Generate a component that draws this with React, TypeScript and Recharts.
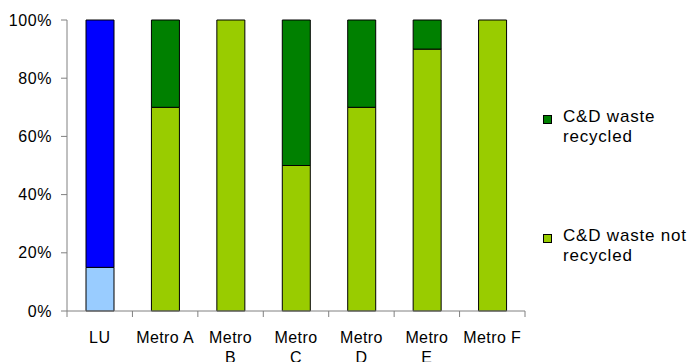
import React from 'react';
import { BarChart, Bar, XAxis, YAxis, Cell } from 'recharts';

const categories = ['LU', 'Metro A', 'Metro B', 'Metro C', 'Metro D', 'Metro E', 'Metro F'];
const tickLabels = ['LU', 'Metro A', 'Metro\nB', 'Metro\nC', 'Metro\nD', 'Metro\nE', 'Metro F'];
const notRecycled = [15, 70, 100, 50, 70, 90, 100];
const recycled = [85, 30, 0, 50, 30, 10, 0];
const yTicks = [0, 20, 40, 60, 80, 100];

const LU_COLORS = { notRecycled: '#99ccff', recycled: '#0000ff' };
const METRO_COLORS = { notRecycled: '#99cc00', recycled: '#008000' };

const legendItems = [
  { label: ['C&D waste', 'recycled'], color: METRO_COLORS.recycled, top: 107 },
  { label: ['C&D waste not', 'recycled'], color: METRO_COLORS.notRecycled, top: 226 },
];

const data = categories.map((name, i) => ({
  name,
  notRecycled: notRecycled[i],
  recycled: recycled[i],
}));

const FONT = '"Liberation Sans", Arial, sans-serif';
const WIDTH = 691;
const HEIGHT = 362;
const MARGIN = { top: 20, right: 166, bottom: 0, left: 0 };
const Y_AXIS_W = 67;
const BAND = (WIDTH - MARGIN.left - MARGIN.right - Y_AXIS_W) / categories.length;

// category label plus the tick marks that sit between the categories
function CategoryTick(props: any) {
  const { x, y, index } = props;
  const lines = tickLabels[index].split('\n');
  const left = x - BAND / 2;
  const right = x + BAND / 2;
  return (
    <g>
      <line x1={left} x2={left} y1={y} y2={y + 6} stroke="#808080" />
      {index === categories.length - 1 && (
        <line x1={right} x2={right} y1={y} y2={y + 6} stroke="#808080" />
      )}
      <text
        x={x}
        y={y}
        textAnchor="middle"
        fontFamily={FONT}
        fontSize={16}
        fill="#000"
        letterSpacing={0.4}
      >
        {lines.map((l, i) => (
          <tspan key={i} x={x} dy={i === 0 ? 32 : 20}>
            {l}
          </tspan>
        ))}
      </text>
    </g>
  );
}

export default function App(): React.ReactElement {
  return (
    <div style={{ position: 'absolute', left: 0, top: 0, width: WIDTH, height: HEIGHT, background: '#fff' }}>
      <BarChart width={WIDTH} height={HEIGHT} data={data} margin={MARGIN} barSize={28}>
        <XAxis
          dataKey="name"
          height={51}
          axisLine={{ stroke: '#808080' }}
          tickLine={false}
          tickSize={0}
          tickMargin={0}
          interval={0}
          tick={<CategoryTick />}
        />
        <YAxis
          width={Y_AXIS_W}
          domain={[0, 100]}
          ticks={yTicks}
          interval={0}
          tickSize={6}
          tickMargin={9}
          tickFormatter={(v: number) => `${v}%`}
          axisLine={{ stroke: '#808080' }}
          tickLine={{ stroke: '#808080' }}
          tick={{ fill: '#000', fontSize: 16, fontFamily: FONT, letterSpacing: 0.6 }}
        />
        <Bar dataKey="notRecycled" stackId="a" stroke="#000" strokeWidth={1} isAnimationActive={false}>
          {data.map((d, i) => (
            <Cell key={d.name} fill={i === 0 ? LU_COLORS.notRecycled : METRO_COLORS.notRecycled} />
          ))}
        </Bar>
        <Bar dataKey="recycled" stackId="a" stroke="#000" strokeWidth={1} isAnimationActive={false}>
          {data.map((d, i) => (
            <Cell key={d.name} fill={i === 0 ? LU_COLORS.recycled : METRO_COLORS.recycled} />
          ))}
        </Bar>
      </BarChart>
      {legendItems.map((item) => (
        <div
          key={item.label.join(' ')}
          style={{
            position: 'absolute',
            left: 543,
            top: item.top,
            fontFamily: FONT,
            fontSize: 17,
            lineHeight: '20px',
            letterSpacing: 0.8,
            color: '#000',
          }}
        >
          <div
            style={{
              position: 'absolute',
              left: 0,
              top: 8,
              width: 7,
              height: 7,
              background: item.color,
              border: '1px solid #000',
            }}
          />
          <div style={{ marginLeft: 20, whiteSpace: 'nowrap' }}>
            {item.label.map((l) => (
              <div key={l}>{l}</div>
            ))}
          </div>
        </div>
      ))}
    </div>
  );
}
